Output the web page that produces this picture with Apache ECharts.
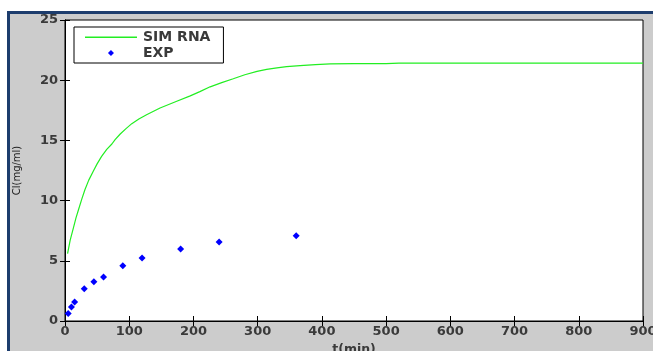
<!DOCTYPE html>
<html>
<head>
<meta charset="utf-8">
<script src="https://cdn.jsdelivr.net/npm/echarts@6/dist/echarts.min.js"></script>
<style>html,body{margin:0;padding:0;background:#fff}#c{width:653px;height:351px}</style>
</head>
<body>
<div id="c"></div>
<script>
const simT = [4, 8, 13, 17, 21, 26, 31, 37, 44, 50, 57, 65, 73, 78, 86, 95, 104, 115, 127, 148, 174, 195, 210, 226, 244, 262, 280, 299, 314, 330, 345, 366, 390, 413, 450, 500, 520, 600, 700, 800, 900];
const simC = [5.6, 6.7, 7.72, 8.55, 9.24, 10.1, 10.9, 11.7, 12.43, 13.05, 13.67, 14.25, 14.7, 15.06, 15.53, 15.98, 16.39, 16.78, 17.13, 17.69, 18.25, 18.7, 19.05, 19.45, 19.8, 20.12, 20.45, 20.73, 20.9, 21.03, 21.13, 21.21, 21.29, 21.35, 21.37, 21.38, 21.42, 21.42, 21.42, 21.42, 21.42];
const expT = [5, 10, 15, 30, 45, 60, 90, 120, 180, 240, 360];
const expC = [0.63, 1.16, 1.58, 2.68, 3.26, 3.65, 4.59, 5.23, 5.98, 6.56, 7.08];
const xTicks = [0, 100, 200, 300, 400, 500, 600, 700, 800, 900];
const yTicks = [0, 5, 10, 15, 20, 25];

const chart = echarts.init(document.getElementById('c'), null, {renderer: 'canvas'});
const font = 'DejaVu Sans, sans-serif';
const txt = '#3a3a3a';
const axisCommon = {
  axisLine: {show: true, lineStyle: {color: '#000', width: 1}},
  axisTick: {show: true, inside: true, length: 5, lineStyle: {color: '#000'}},
  splitLine: {show: false}
};
chart.setOption({
  backgroundColor: '#fff',
  animation: false,
  graphic: [
    {type: 'rect', z: -10, shape: {x: 7, y: 11, width: 646, height: 340}, style: {fill: '#1d3d6d'}},
    {type: 'rect', z: -9, shape: {x: 10, y: 14, width: 643, height: 337}, style: {fill: '#cccccc'}}
  ],
  grid: {left: 65, top: 20, width: 578, height: 301, show: true, backgroundColor: '#fff', borderColor: '#000', borderWidth: 1, outerBoundsMode: 'none', containLabel: false},
  legend: {
    orient: 'vertical', left: 74, top: 27,
    backgroundColor: '#fff', borderColor: '#000', borderWidth: 1,
    padding: [3, 13, 3, 11], itemGap: 2, itemWidth: 52, itemHeight: 14, itemStyle: {borderWidth: 0},
    textStyle: {fontFamily: font, fontSize: 14, fontWeight: 'bold', color: txt, padding: [0, 0, 0, 1]},
    data: [
      {name: 'SIM RNA', icon: 'path://M0,0 L0.01,0 Z M52,14 L52.01,14 Z M0,6.5 L52,6.5 L52,8 L0,8 Z', itemStyle: {color: '#22ee22'}},
      {name: 'EXP', icon: 'path://M0,0 L0.01,0 Z M52,14 L52.01,14 Z M23,7 L26,4 L29,7 L26,10 Z', itemStyle: {color: '#0000ff', opacity: 1}}
    ]
  },
  xAxis: [
    Object.assign({}, axisCommon, {
      type: 'value', min: 0, max: 900, interval: 100, position: 'bottom',
      name: 't(min)', nameLocation: 'middle', nameGap: 21,
      nameTextStyle: {fontFamily: font, fontSize: 12.5, fontWeight: 'bold', color: txt},
      axisLabel: {fontFamily: font, fontSize: 13, fontWeight: 'bold', color: txt, margin: 4}
    }),
    Object.assign({}, axisCommon, {
      type: 'value', min: 0, max: 900, interval: 100, position: 'top',
      axisLabel: {show: false}
    })
  ],
  yAxis: [
    Object.assign({}, axisCommon, {
      type: 'value', min: 0, max: 25, interval: 5, position: 'left',
      name: 'Cl(mg/ml)', nameLocation: 'middle', nameGap: 43,
      nameTextStyle: {fontFamily: font, fontSize: 10, color: '#222'},
      axisLabel: {fontFamily: font, fontSize: 13, fontWeight: 'bold', color: txt, margin: 7}
    }),
    Object.assign({}, axisCommon, {
      type: 'value', min: 0, max: 25, interval: 5, position: 'right',
      axisLabel: {show: false}
    })
  ],
  series: [
    {name: 'SIM RNA', type: 'line', xAxisIndex: 0, yAxisIndex: 0, showSymbol: false, symbol: 'none',
     smooth: false, lineStyle: {color: '#22ee22', width: 1.2}, itemStyle: {color: '#22ee22'},
     data: simT.map((t, i) => [t, simC[i]])},
    {name: 'EXP', type: 'scatter', xAxisIndex: 0, yAxisIndex: 0, symbol: 'diamond', symbolSize: [7, 7],
     itemStyle: {color: '#0000ff', opacity: 1},
     data: expT.map((t, i) => [t, expC[i]])}
  ]
});
</script>
</body>
</html>
